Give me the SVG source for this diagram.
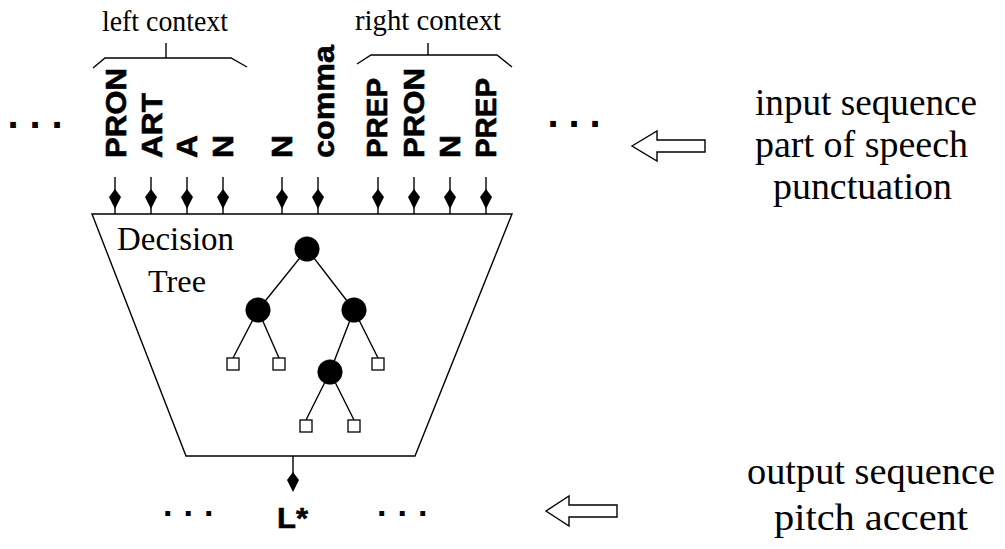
<svg xmlns="http://www.w3.org/2000/svg" width="1005" height="549" viewBox="0 0 1005 549">
  <defs>
    <style>
      .pos { font-family: "Liberation Sans", Arial, sans-serif; font-weight: bold; font-size: 30px; fill: #000; stroke: #000; stroke-width: 0.6; }
      .dots { font-family: "Liberation Sans", Arial, sans-serif; font-weight: bold; fill: #000; }
      .serif { font-family: "Liberation Serif", "Times New Roman", serif; fill: #000; }
      .line { fill: none; stroke: #000; stroke-width: 1.4; }
      .hollow { fill: #fff; stroke: #000; stroke-width: 1.4; stroke-linejoin: miter; }
      .inner { fill: #000; stroke: #000; stroke-width: 0.5; }
      .leaf { fill: #fff; stroke: #000; stroke-width: 1.3; }
      .edge { stroke: #000; stroke-width: 1.4; }
    </style>
    <!-- small kite-shaped head used on the feed arrows -->
    <path id="head" d="M0,-20 L6,-12 L0,0 L-6,-12 Z"/>
  </defs>

  <rect width="1005" height="549" fill="#fff"/>

  <!-- context braces and their captions -->
  <g id="left-context">
    <path class="line" d="M93,68 L105,58 L231,58 L247,67 M166,43 V58"/>
    <text class="serif" x="102" y="31" font-size="29" textLength="126" lengthAdjust="spacingAndGlyphs">left context</text>
  </g>
  <g id="right-context">
    <path class="line" d="M357,64 L371,55 L497,55 L512,67 M428,43 V55"/>
    <text class="serif" x="355" y="30" font-size="29" textLength="146" lengthAdjust="spacingAndGlyphs">right context</text>
  </g>

  <!-- input token labels, rotated to read bottom-up -->
  <g id="tok-1"><text class="pos" transform="translate(126,158) rotate(-90)" textLength="90" lengthAdjust="spacingAndGlyphs">PRON</text></g>
  <g id="tok-2"><text class="pos" transform="translate(162,158) rotate(-90)" textLength="65" lengthAdjust="spacingAndGlyphs">ART</text></g>
  <g id="tok-3"><text class="pos" transform="translate(197,158) rotate(-90)" textLength="23" lengthAdjust="spacingAndGlyphs">A</text></g>
  <g id="tok-4"><text class="pos" transform="translate(233,158) rotate(-90)" textLength="23" lengthAdjust="spacingAndGlyphs">N</text></g>
  <g id="tok-5"><text class="pos" transform="translate(292,158) rotate(-90)" textLength="23" lengthAdjust="spacingAndGlyphs">N</text></g>
  <g id="tok-6"><text class="pos" transform="translate(334,158) rotate(-90)" font-size="39" textLength="113" lengthAdjust="spacingAndGlyphs">comma</text></g>
  <g id="tok-7"><text class="pos" transform="translate(387,158) rotate(-90)" textLength="80" lengthAdjust="spacingAndGlyphs">PREP</text></g>
  <g id="tok-8"><text class="pos" transform="translate(424,158) rotate(-90)" textLength="90" lengthAdjust="spacingAndGlyphs">PRON</text></g>
  <g id="tok-9"><text class="pos" transform="translate(460,158) rotate(-90)" textLength="23" lengthAdjust="spacingAndGlyphs">N</text></g>
  <g id="tok-10"><text class="pos" transform="translate(496,158) rotate(-90)" textLength="80" lengthAdjust="spacingAndGlyphs">PREP</text></g>

  <!-- ellipses around the sequences -->
  <g id="ellipsis-in-left"><text class="dots" x="7.5" y="128" font-size="40" letter-spacing="10.9">...</text></g>
  <g id="ellipsis-in-right"><text class="dots" x="547.5" y="127" font-size="40" letter-spacing="9.9">...</text></g>
  <g id="ellipsis-out-left"><text class="dots" x="163" y="515.5" font-size="34" letter-spacing="11">...</text></g>
  <g id="ellipsis-out-right"><text class="dots" x="377" y="515.5" font-size="34" letter-spacing="11">...</text></g>

  <!-- the decision tree box -->
  <g id="decision-tree">
    <path class="line" d="M92,214 L512,214 L415,456 L186,456 Z"/>
    <text class="serif" x="117" y="250" font-size="33" textLength="117" lengthAdjust="spacingAndGlyphs">Decision</text>
    <text class="serif" x="148" y="292" font-size="32" textLength="58" lengthAdjust="spacingAndGlyphs">Tree</text>
  </g>

  <!-- output label -->
  <g id="output-token"><text class="pos" x="277" y="528" font-size="33" textLength="31" lengthAdjust="spacingAndGlyphs">L*</text></g>

  <!-- side captions with hollow pointers -->
  <g id="input-caption">
    <path class="hollow" d="M632,146 L657,131 L657,140 L705,140 L705,152 L657,152 L657,161 Z"/>
    <text class="serif" x="755" y="115" font-size="37" textLength="222" lengthAdjust="spacingAndGlyphs">input sequence</text>
    <text class="serif" x="755" y="157" font-size="37" textLength="213" lengthAdjust="spacingAndGlyphs">part of speech</text>
    <text class="serif" x="773" y="199" font-size="37" textLength="179" lengthAdjust="spacingAndGlyphs">punctuation</text>
  </g>
  <g id="output-caption">
    <path class="hollow" d="M546,511 L569,496 L569,505 L617,505 L617,517 L569,517 L569,526 Z"/>
    <text class="serif" x="747" y="484" font-size="37" textLength="248" lengthAdjust="spacingAndGlyphs">output sequence</text>
    <text class="serif" x="774" y="530" font-size="37" textLength="194" lengthAdjust="spacingAndGlyphs">pitch accent</text>
  </g>

  <!-- tree nodes -->
  <g id="n-root"><circle class="inner" cx="307" cy="249" r="12.3"/></g>
  <g id="n-left"><circle class="inner" cx="258" cy="310" r="12.3"/></g>
  <g id="n-right"><circle class="inner" cx="354" cy="310" r="12.3"/></g>
  <g id="n-mid"><circle class="inner" cx="330" cy="372" r="12.3"/></g>
  <g id="leaf-1"><rect class="leaf" x="227" y="358" width="12" height="12"/></g>
  <g id="leaf-2"><rect class="leaf" x="273" y="358" width="12" height="12"/></g>
  <g id="leaf-3"><rect class="leaf" x="372" y="358" width="12" height="12"/></g>
  <g id="leaf-4"><rect class="leaf" x="300" y="420" width="12" height="12"/></g>
  <g id="leaf-5"><rect class="leaf" x="348" y="420" width="12" height="12"/></g>

  <g id="connectors">
    <!-- tree edges -->
    <line class="edge" x1="307" y1="249" x2="258" y2="310"/>
    <line class="edge" x1="307" y1="249" x2="354" y2="310"/>
    <line class="edge" x1="258" y1="310" x2="233" y2="358"/>
    <line class="edge" x1="258" y1="310" x2="279" y2="358"/>
    <line class="edge" x1="354" y1="310" x2="330" y2="372"/>
    <line class="edge" x1="354" y1="310" x2="378" y2="358"/>
    <line class="edge" x1="330" y1="372" x2="306" y2="420"/>
    <line class="edge" x1="330" y1="372" x2="354" y2="420"/>

    <!-- token feed arrows into the box -->
    <g>
      <line class="edge" x1="115" y1="177" x2="115" y2="214"/><use href="#head" x="115" y="209"/>
      <line class="edge" x1="151" y1="177" x2="151" y2="214"/><use href="#head" x="151" y="209"/>
      <line class="edge" x1="187" y1="177" x2="187" y2="214"/><use href="#head" x="187" y="209"/>
      <line class="edge" x1="223" y1="177" x2="223" y2="214"/><use href="#head" x="223" y="209"/>
      <line class="edge" x1="282" y1="177" x2="282" y2="214"/><use href="#head" x="282" y="209"/>
      <line class="edge" x1="318" y1="177" x2="318" y2="214"/><use href="#head" x="318" y="209"/>
      <line class="edge" x1="378" y1="177" x2="378" y2="214"/><use href="#head" x="378" y="209"/>
      <line class="edge" x1="414" y1="177" x2="414" y2="214"/><use href="#head" x="414" y="209"/>
      <line class="edge" x1="450" y1="177" x2="450" y2="214"/><use href="#head" x="450" y="209"/>
      <line class="edge" x1="486" y1="177" x2="486" y2="214"/><use href="#head" x="486" y="209"/>
    </g>

    <!-- box output arrow -->
    <line class="edge" x1="293" y1="456" x2="293" y2="486"/>
    <use href="#head" x="293" y="492"/>
  </g>
</svg>
